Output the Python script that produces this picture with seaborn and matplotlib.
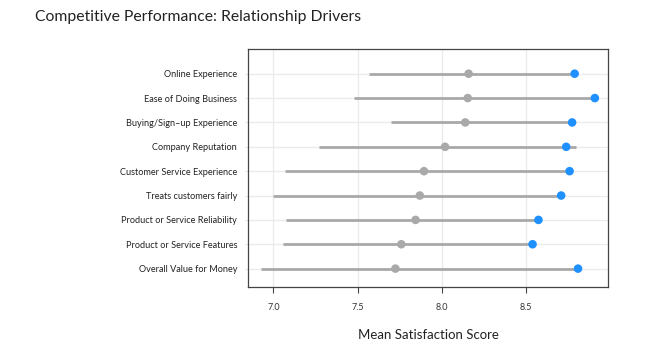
import matplotlib
matplotlib.use("Agg")
import matplotlib.pyplot as plt
import seaborn as sns
import pandas as pd

categories = [
    "Online Experience",
    "Ease of Doing Business",
    "Buying/Sign\u2013up Experience",
    "Company Reputation",
    "Customer Service Experience",
    "Treats customers fairly",
    "Product or Service Reliability",
    "Product or Service Features",
    "Overall Value for Money",
]
range_min = [7.57, 7.48, 7.70, 7.27, 7.07, 7.00, 7.075, 7.06, 6.925]
range_max = [8.79, 8.91, 8.775, 8.80, 8.76, 8.71, 8.575, 8.54, 8.81]
competitor_mean = [8.16, 8.155, 8.14, 8.02, 7.895, 7.87, 7.845, 7.76, 7.725]
company_score = [8.79, 8.91, 8.775, 8.74, 8.76, 8.71, 8.575, 8.54, 8.81]

sns.set_theme(style="whitegrid")
plt.rcParams['font.family'] = ['Lato', 'DejaVu Sans']

n = len(categories)
pos = list(range(n, 0, -1))
df = pd.DataFrame({"cat": categories, "pos": pos, "lo": range_min, "hi": range_max,
                   "mean": competitor_mean, "company": company_score})

fig = plt.figure(figsize=(6.67, 3.5), dpi=100)
ax = fig.add_axes([0.372, 0.181, 0.540, 0.678])

ax.hlines(df["pos"], df["lo"], df["hi"], color="#a9a9a9", linewidth=2.0, zorder=2)
sns.scatterplot(data=df, x="mean", y="pos", color="#a9a9a9", s=38, edgecolor="none", ax=ax, zorder=3)
sns.scatterplot(data=df, x="company", y="pos", color="#1e90ff", s=38, edgecolor="none", ax=ax, zorder=4)

ax.set_xlim(6.85, 8.99)
ax.set_ylim(0.26, 10.0)
ax.set_xticks([7.0, 7.5, 8.0, 8.5])
ax.set_xticklabels(["7.0", "7.5", "8.0", "8.5"], fontsize=6.5, color="#333333")
ax.set_yticks(pos)
ax.set_yticklabels(categories, fontsize=6.6, color="#222222")
ax.set_xlabel("Mean Satisfaction Score", fontsize=9.5, color="#222222", labelpad=12)
ax.set_ylabel("")
ax.grid(True, color="#ebebeb", linewidth=1.0)
ax.set_axisbelow(True)
for s in ax.spines.values():
    s.set_visible(True)
    s.set_color("#444444")
    s.set_linewidth(0.9)
ax.tick_params(axis="x", which="both", length=4, width=0.8, color="#444444", pad=8, bottom=True)
ax.tick_params(axis="y", which="both", length=2, width=0.6, color="#dddddd", pad=6, left=True)

fig.text(0.052, 0.952, "Competitive Performance: Relationship Drivers", fontsize=11.3,
         color="#222222", ha="left", va="center")

fig.savefig("out.png", dpi=100)
